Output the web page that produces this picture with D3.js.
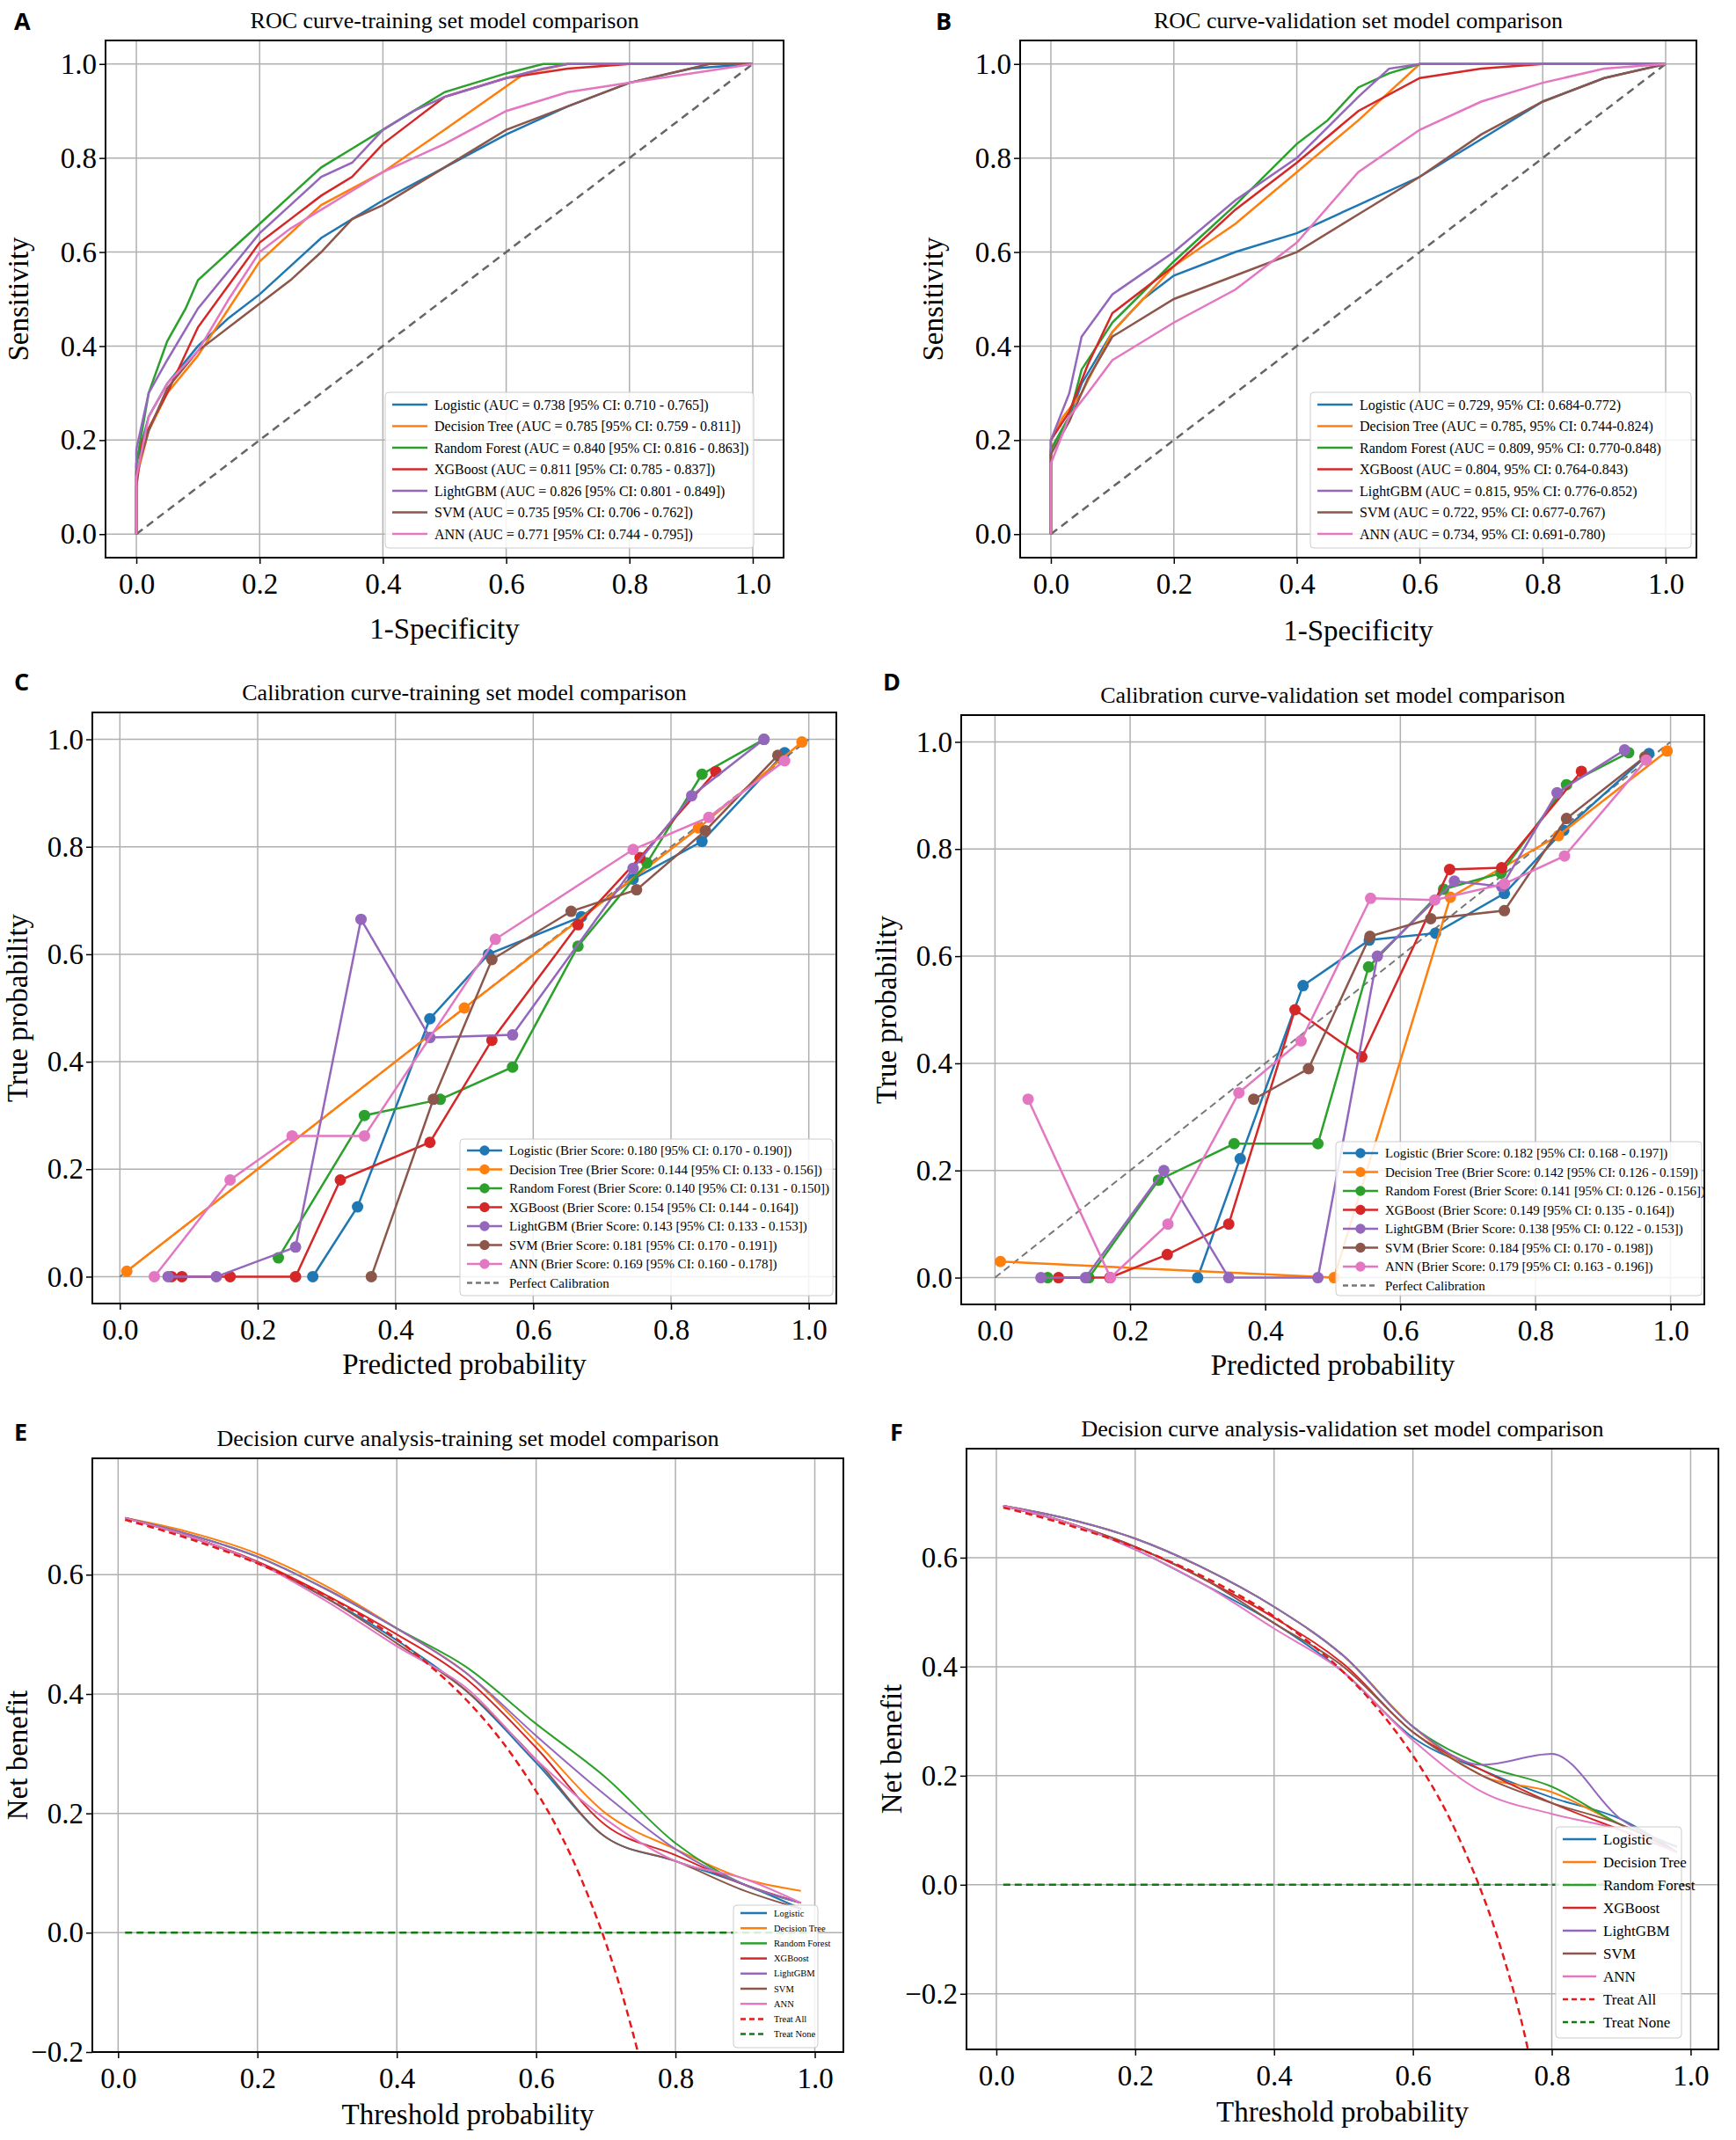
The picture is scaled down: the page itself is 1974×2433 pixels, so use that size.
<!DOCTYPE html><html><head><meta charset="utf-8"><script src="https://cdn.jsdelivr.net/npm/d3@7"></script>
<style>body{margin:0;background:#fff}text{font-family:"Liberation Serif","Times New Roman",serif}</style></head><body>
<script>
const models=["Logistic","Decision Tree","Random Forest","XGBoost","LightGBM","SVM","ANN"];
const colors=["#1f77b4","#ff7f0e","#2ca02c","#d62728","#9467bd","#8c564b","#e377c2"];
const ticks=[0,0.2,0.4,0.6,0.8,1.0];
const aucTrain=["0.738 [95% CI: 0.710 - 0.765]","0.785 [95% CI: 0.759 - 0.811]","0.840 [95% CI: 0.816 - 0.863]","0.811 [95% CI: 0.785 - 0.837]","0.826 [95% CI: 0.801 - 0.849]","0.735 [95% CI: 0.706 - 0.762]","0.771 [95% CI: 0.744 - 0.795]"];
const aucVal=["0.729, 95% CI: 0.684-0.772","0.785, 95% CI: 0.744-0.824","0.809, 95% CI: 0.770-0.848","0.804, 95% CI: 0.764-0.843","0.815, 95% CI: 0.776-0.852","0.722, 95% CI: 0.677-0.767","0.734, 95% CI: 0.691-0.780"];
const brierTrain=["0.180 [95% CI: 0.170 - 0.190]","0.144 [95% CI: 0.133 - 0.156]","0.140 [95% CI: 0.131 - 0.150]","0.154 [95% CI: 0.144 - 0.164]","0.143 [95% CI: 0.133 - 0.153]","0.181 [95% CI: 0.170 - 0.191]","0.169 [95% CI: 0.160 - 0.178]"];
const brierVal=["0.182 [95% CI: 0.168 - 0.197]","0.142 [95% CI: 0.126 - 0.159]","0.141 [95% CI: 0.126 - 0.156]","0.149 [95% CI: 0.135 - 0.164]","0.138 [95% CI: 0.122 - 0.153]","0.184 [95% CI: 0.170 - 0.198]","0.179 [95% CI: 0.163 - 0.196]"];
const rocTrain=[
[[0,0],[0,0.15],[0.02,0.25],[0.05,0.32],[0.1,0.4],[0.15,0.46],[0.2,0.51],[0.25,0.57],[0.3,0.63],[0.35,0.67],[0.4,0.71],[0.5,0.78],[0.6,0.85],[0.7,0.91],[0.8,0.96],[0.9,0.99],[1,1]],
[[0,0],[0,0.12],[0.02,0.22],[0.05,0.3],[0.1,0.38],[0.2,0.58],[0.3,0.7],[0.4,0.77],[0.5,0.86],[0.63,0.98],[0.7,1],[1,1]],
[[0,0],[0,0.15],[0.02,0.3],[0.05,0.41],[0.08,0.48],[0.1,0.54],[0.15,0.6],[0.2,0.66],[0.25,0.72],[0.3,0.78],[0.35,0.82],[0.4,0.86],[0.45,0.9],[0.5,0.94],[0.6,0.98],[0.66,1],[1,1]],
[[0,0],[0,0.1],[0.01,0.2],[0.05,0.3],[0.1,0.44],[0.15,0.53],[0.2,0.62],[0.25,0.67],[0.3,0.72],[0.35,0.76],[0.4,0.83],[0.45,0.88],[0.5,0.93],[0.6,0.97],[0.7,0.99],[0.8,1],[1,1]],
[[0,0],[0,0.18],[0.02,0.3],[0.05,0.37],[0.1,0.48],[0.15,0.56],[0.2,0.64],[0.25,0.7],[0.3,0.76],[0.35,0.79],[0.4,0.86],[0.45,0.9],[0.5,0.93],[0.6,0.97],[0.66,0.99],[0.7,1],[1,1]],
[[0,0],[0,0.13],[0.02,0.22],[0.05,0.31],[0.1,0.39],[0.15,0.44],[0.2,0.49],[0.25,0.54],[0.3,0.6],[0.35,0.67],[0.4,0.7],[0.5,0.78],[0.6,0.86],[0.7,0.91],[0.8,0.96],[0.93,1],[1,1]],
[[0,0],[0,0.12],[0.02,0.25],[0.05,0.32],[0.1,0.39],[0.15,0.5],[0.2,0.6],[0.25,0.65],[0.3,0.69],[0.35,0.73],[0.4,0.77],[0.5,0.83],[0.6,0.9],[0.7,0.94],[0.8,0.96],[0.9,0.98],[1,1]]];
const rocVal=[
[[0,0],[0,0.18],[0.03,0.25],[0.05,0.32],[0.1,0.43],[0.15,0.5],[0.2,0.55],[0.3,0.6],[0.4,0.64],[0.5,0.7],[0.6,0.76],[0.7,0.84],[0.8,0.92],[0.9,0.97],[1,1]],
[[0,0],[0,0.2],[0.02,0.25],[0.05,0.3],[0.1,0.43],[0.2,0.57],[0.3,0.66],[0.4,0.77],[0.5,0.88],[0.6,1],[1,1]],
[[0,0],[0,0.18],[0.03,0.25],[0.05,0.35],[0.1,0.45],[0.2,0.58],[0.3,0.7],[0.4,0.83],[0.45,0.88],[0.5,0.95],[0.55,0.98],[0.6,1],[1,1]],
[[0,0],[0,0.2],[0.03,0.26],[0.06,0.36],[0.1,0.47],[0.2,0.57],[0.3,0.69],[0.4,0.79],[0.5,0.9],[0.6,0.97],[0.7,0.99],[0.8,1],[1,1]],
[[0,0],[0,0.2],[0.03,0.3],[0.05,0.42],[0.1,0.51],[0.2,0.6],[0.3,0.71],[0.4,0.8],[0.5,0.93],[0.55,0.99],[0.6,1],[1,1]],
[[0,0],[0,0.17],[0.03,0.24],[0.06,0.33],[0.1,0.42],[0.2,0.5],[0.3,0.55],[0.4,0.6],[0.5,0.68],[0.6,0.76],[0.7,0.85],[0.8,0.92],[0.9,0.97],[1,1]],
[[0,0],[0,0.15],[0.03,0.25],[0.06,0.3],[0.1,0.37],[0.2,0.45],[0.3,0.52],[0.4,0.62],[0.5,0.77],[0.6,0.86],[0.7,0.92],[0.8,0.96],[0.9,0.99],[1,1]]];
const calTrain=[
[[0.28,0],[0.345,0.13],[0.45,0.48],[0.535,0.6],[0.67,0.67],[0.745,0.74],[0.845,0.81],[0.965,0.975]],
[[0.01,0.01],[0.5,0.5],[0.84,0.835],[0.99,0.995]],
[[0.23,0.035],[0.355,0.3],[0.465,0.33],[0.57,0.39],[0.665,0.615],[0.765,0.77],[0.845,0.935],[0.935,1.0]],
[[0.075,0],[0.09,0],[0.16,0],[0.255,0],[0.32,0.18],[0.45,0.25],[0.54,0.44],[0.665,0.655],[0.755,0.78],[0.865,0.94]],
[[0.07,0],[0.14,0],[0.255,0.055],[0.35,0.665],[0.45,0.445],[0.57,0.45],[0.745,0.76],[0.83,0.895],[0.935,1.0]],
[[0.365,0],[0.455,0.33],[0.54,0.59],[0.655,0.68],[0.75,0.72],[0.85,0.83],[0.955,0.97]],
[[0.05,0],[0.16,0.18],[0.25,0.262],[0.355,0.262],[0.545,0.628],[0.745,0.795],[0.855,0.855],[0.965,0.96]]];
const calVal=[
[[0.30,0],[0.363,0.222],[0.456,0.545],[0.554,0.63],[0.652,0.643],[0.754,0.717],[0.842,0.835],[0.968,0.978]],
[[0.008,0.03],[0.502,0],[0.674,0.71],[0.834,0.825],[0.995,0.983]],
[[0.078,0],[0.139,0],[0.242,0.182],[0.354,0.25],[0.478,0.25],[0.553,0.58],[0.664,0.725],[0.749,0.755],[0.846,0.92],[0.938,0.98]],
[[0.094,0],[0.17,0],[0.255,0.043],[0.346,0.1],[0.444,0.5],[0.543,0.412],[0.673,0.762],[0.75,0.765],[0.868,0.945]],
[[0.068,0],[0.134,0],[0.25,0.2],[0.346,0],[0.478,0],[0.566,0.6],[0.68,0.74],[0.75,0.73],[0.832,0.905],[0.932,0.985]],
[[0.383,0.333],[0.464,0.39],[0.555,0.637],[0.645,0.67],[0.754,0.685],[0.846,0.857],[0.962,0.972]],
[[0.049,0.333],[0.171,0],[0.256,0.1],[0.361,0.345],[0.453,0.442],[0.556,0.708],[0.651,0.705],[0.754,0.735],[0.843,0.787],[0.964,0.966]]];
const dcaT=[0.01,0.1,0.2,0.3,0.4,0.5,0.6,0.7,0.8,0.9,0.98];
const dcaTrain=[
[.695,.665,.62,.56,.49,.405,.285,.16,.12,.08,.04],
[.695,.672,.635,.58,.51,.435,.32,.20,.14,.09,.07],
[.695,.668,.63,.575,.51,.445,.35,.26,.15,.08,.05],
[.695,.665,.622,.565,.50,.425,.31,.18,.13,.08,.05],
[.695,.668,.63,.575,.51,.435,.33,.23,.14,.08,.05],
[.695,.665,.62,.56,.485,.405,.29,.16,.12,.07,.04],
[.695,.665,.62,.555,.48,.41,.29,.19,.12,.09,.05]];
const dcaVal=[
[.695,.665,.615,.55,.48,.39,.27,.21,.16,.12,.06],
[.695,.672,.635,.58,.51,.42,.29,.20,.17,.11,.07],
[.695,.672,.635,.58,.51,.42,.29,.22,.18,.11,.07],
[.695,.665,.62,.56,.49,.405,.28,.21,.15,.10,.06],
[.695,.672,.635,.58,.51,.42,.29,.22,.24,.12,.07],
[.695,.665,.62,.56,.48,.40,.28,.20,.15,.11,.06],
[.695,.665,.615,.55,.47,.39,.265,.17,.13,.10,.06]];
const treatAllT=[0.01,0.05,0.1,0.15,0.2,0.25,0.3,0.35,0.4,0.45,0.5,0.55,0.6,0.625,0.65,0.675,0.7,0.715,0.73,0.76,0.78];
const treatAllNB=[0.692,0.679,0.661,0.641,0.619,0.593,0.564,0.531,0.492,0.445,0.39,0.322,0.237,0.187,0.129,0.061,-0.017,-0.07,-0.13,-0.27,-0.39];
const treatNoneT=[0.01,0.99];
const treatNoneNB=[0,0];

const W=1974,H=2433;
const svg=d3.select("body").append("svg").attr("width",W).attr("height",H);

function panel(o){
  const g=svg.append("g");
  const x=d3.scaleLinear().domain(o.xd).range([o.l,o.r]);
  const y=d3.scaleLinear().domain(o.yd).range([o.b,o.t]);
  const clipId="c"+o.letter;
  svg.append("clipPath").attr("id",clipId).append("rect").attr("x",o.l).attr("y",o.t).attr("width",o.r-o.l).attr("height",o.b-o.t);
  g.append("g").selectAll("line").data(ticks).join("line").attr("x1",d=>x(d)).attr("x2",d=>x(d)).attr("y1",o.t).attr("y2",o.b).attr("stroke","#b0b0b0").attr("stroke-width",1.5);
  g.append("g").selectAll("line").data(o.yt).join("line").attr("y1",d=>y(d)).attr("y2",d=>y(d)).attr("x1",o.l).attr("x2",o.r).attr("stroke","#b0b0b0").attr("stroke-width",1.5);
  const xa=g.append("g").attr("transform",`translate(0,${o.b})`).call(d3.axisBottom(x).tickValues(ticks).tickFormat(d3.format(".1f")).tickSize(7));
  const ya=g.append("g").attr("transform",`translate(${o.l},0)`).call(d3.axisLeft(y).tickValues(o.yt).tickFormat(d3.format(".1f")).tickSize(7));
  [xa,ya].forEach(a=>{a.attr("font-family",null).attr("font-size",null);a.select(".domain").remove();a.selectAll("text").attr("font-size",33).style("font-family","'Liberation Serif',serif").attr("fill","#000");a.selectAll("line").attr("stroke","#000").attr("stroke-width",1.5);});
  xa.selectAll("text").attr("dy","0.95em");
  const pg=g.append("g").attr("clip-path",`url(#${clipId})`);
  o.draw(pg,x,y);
  g.append("rect").attr("x",o.l).attr("y",o.t).attr("width",o.r-o.l).attr("height",o.b-o.t).attr("fill","none").attr("stroke","#000").attr("stroke-width",2);
  g.append("text").attr("x",(o.l+o.r)/2).attr("y",o.t-14).attr("text-anchor","middle").attr("font-size",26).text(o.title);
  g.append("text").attr("x",(o.l+o.r)/2).attr("y",o.b+o.xlY).attr("text-anchor","middle").attr("font-size",33).text(o.xl);
  g.append("text").attr("transform",`translate(${o.l-o.ylX},${(o.t+o.b)/2}) rotate(-90)`).attr("text-anchor","middle").attr("font-size",33).text(o.yl);
  g.append("text").attr("x",o.lx).attr("y",o.ly).attr("font-size",27).attr("font-weight","bold").style("font-family","'Open Sans',sans-serif").text(o.letter);
  const L=o.leg;
  const lg=g.append("g");
  lg.append("rect").attr("x",L.x).attr("y",L.y).attr("width",L.w).attr("height",L.h).attr("fill","rgba(255,255,255,0.85)").attr("stroke","#ccc").attr("rx",4);
  L.items.forEach((it,i)=>{
    const yy=L.y+L.pad+i*L.dy;
    lg.append("line").attr("x1",L.x+8).attr("x2",L.x+8+L.sw).attr("y1",yy).attr("y2",yy).attr("stroke",it.c).attr("stroke-width",2.5).attr("stroke-dasharray",it.dash?"6,4":null);
    if(it.m) lg.append("circle").attr("cx",L.x+8+L.sw/2).attr("cy",yy).attr("r",L.fs*0.38).attr("fill",it.c);
    lg.append("text").attr("x",L.x+16+L.sw).attr("y",yy).attr("dy","0.35em").attr("font-size",L.fs).text(it.t);
  });
}
const line=(x,y,c)=>d3.line().x(d=>x(d[0])).y(d=>y(d[1])).curve(c||d3.curveLinear);
function rocDraw(data){return (g,x,y)=>{
  g.append("path").attr("d",line(x,y)([[0,0],[1,1]])).attr("stroke","#666").attr("stroke-width",2.5).attr("stroke-dasharray","9,6").attr("fill","none");
  data.forEach((d,i)=>g.append("path").attr("d",line(x,y)(d)).attr("stroke",colors[i]).attr("stroke-width",2.5).attr("fill","none"));
};}
function calDraw(data){return (g,x,y)=>{
  g.append("path").attr("d",line(x,y)([[0,0],[1,1]])).attr("stroke","#777").attr("stroke-width",2).attr("stroke-dasharray","8,5").attr("fill","none");
  data.forEach((d,i)=>{g.append("path").attr("d",line(x,y)(d)).attr("stroke",colors[i]).attr("stroke-width",2.5).attr("fill","none");
    g.selectAll(null).data(d).join("circle").attr("cx",p=>x(p[0])).attr("cy",p=>y(p[1])).attr("r",6.5).attr("fill",colors[i]);});
};}
function dcaDraw(data){return (g,x,y)=>{
  data.forEach((d,i)=>g.append("path").attr("d",line(x,y,d3.curveMonotoneX)(dcaT.map((t,j)=>[t,d[j]]))).attr("stroke",colors[i]).attr("stroke-width",2).attr("fill","none"));
  g.append("path").attr("d",line(x,y,d3.curveMonotoneX)(treatAllT.map((t,j)=>[t,treatAllNB[j]]))).attr("stroke","#e41a1c").attr("stroke-width",2.5).attr("stroke-dasharray","8,5").attr("fill","none");
  g.append("path").attr("d",line(x,y)(treatNoneT.map((t,j)=>[t,treatNoneNB[j]]))).attr("stroke","#137a13").attr("stroke-width",2.5).attr("stroke-dasharray","8,5").attr("fill","none");
};}
const legItems=(texts,m)=>models.map((n,i)=>({c:colors[i],t:texts?`${n} (${texts[i]})`:n,m}));

panel({letter:"A",lx:16,ly:34,l:120,r:891,t:46,b:634,xd:[-0.05,1.05],yd:[-0.05,1.05],yt:ticks,title:"ROC curve-training set model comparison",xl:"1-Specificity",yl:"Sensitivity",xlY:92,ylX:88,draw:rocDraw(rocTrain),
  leg:{x:438,y:446,w:419,h:177,pad:14,dy:24.5,sw:40,fs:16,items:legItems(aucTrain.map(s=>"AUC = "+s))}});
panel({letter:"B",lx:1064,ly:34,l:1160,r:1929,t:46,b:634,xd:[-0.05,1.05],yd:[-0.05,1.05],yt:ticks,title:"ROC curve-validation set model comparison",xl:"1-Specificity",yl:"Sensitivity",xlY:94,ylX:88,draw:rocDraw(rocVal),
  leg:{x:1490,y:446,w:433,h:177,pad:14,dy:24.5,sw:40,fs:16,items:legItems(aucVal.map(s=>"AUC = "+s))}});
panel({letter:"C",lx:16,ly:785,l:105,r:951,t:810,b:1482,xd:[-0.04,1.04],yd:[-0.05,1.05],yt:ticks,title:"Calibration curve-training set model comparison",xl:"Predicted probability",yl:"True probability",xlY:80,ylX:74,draw:calDraw(calTrain),
  leg:{x:523,y:1295,w:424,h:178,pad:13,dy:21.5,sw:40,fs:15,items:legItems(brierTrain.map(s=>"Brier Score: "+s),true).concat([{c:"#777",t:"Perfect Calibration",dash:true}])}});
panel({letter:"D",lx:1004,ly:785,l:1093,r:1938,t:813,b:1483,xd:[-0.05,1.05],yd:[-0.05,1.05],yt:ticks,title:"Calibration curve-validation set model comparison",xl:"Predicted probability",yl:"True probability",xlY:80,ylX:74,draw:calDraw(calVal),
  leg:{x:1519,y:1298,w:416,h:175,pad:13,dy:21.5,sw:40,fs:15,items:legItems(brierVal.map(s=>"Brier Score: "+s),true).concat([{c:"#777",t:"Perfect Calibration",dash:true}])}});
const dcaLeg=()=>legItems(null).concat([{c:"#e41a1c",t:"Treat All",dash:true},{c:"#137a13",t:"Treat None",dash:true}]);
panel({letter:"E",lx:16,ly:1638,l:105,r:959,t:1658,b:2333,xd:[-0.037,1.041],yd:[-0.2,0.795],yt:[-0.2,0,0.2,0.4,0.6],title:"Decision curve analysis-training set model comparison",xl:"Threshold probability",yl:"Net benefit",xlY:82,ylX:74,draw:dcaDraw(dcaTrain),
  leg:{x:834,y:2166,w:96,h:162,pad:9,dy:17.2,sw:30,fs:10.5,items:dcaLeg()}});
panel({letter:"F",lx:1012,ly:1638,l:1099,r:1954,t:1647,b:2330,xd:[-0.043,1.04],yd:[-0.302,0.80],yt:[-0.2,0,0.2,0.4,0.6],title:"Decision curve analysis-validation set model comparison",xl:"Threshold probability",yl:"Net benefit",xlY:82,ylX:74,draw:dcaDraw(dcaVal),
  leg:{x:1769,y:2077,w:143,h:240,pad:14,dy:26,sw:38,fs:17,items:dcaLeg()}});
</script></body></html>
